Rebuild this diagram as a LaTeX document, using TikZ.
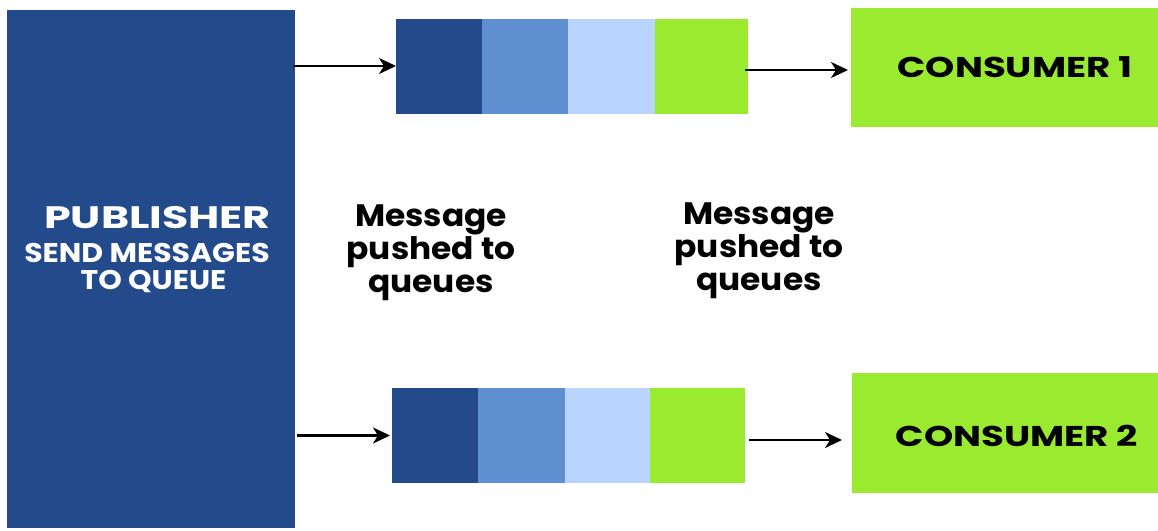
\documentclass[tikz,border=0pt]{standalone}
\usepackage{fontspec}
\setmainfont{Poppins}
% wide cuts of the same face for the headings
\newfontfamily\titlewide[FakeStretch=1.38]{Poppins}
\newfontfamily\subwide[FakeStretch=1.11]{Poppins}
\newfontfamily\conswide[FakeStretch=1.3]{Poppins}
\newfontfamily\capwide[FakeStretch=1.06]{Poppins}
\usetikzlibrary{arrows.meta}

\definecolor{navy}{HTML}{234B8C}
\definecolor{midblue}{HTML}{5F8ED1}
\definecolor{paleblue}{HTML}{B8D4FF}
\definecolor{lime}{HTML}{9AEA30}

\tikzset{
  block/.style={rectangle, inner sep=0pt, outer sep=0pt, draw=none},
  cell/.style={block, minimum height=95pt},
  link/.style={draw=black, line width=2.4pt, -{Stealth[length=17pt,width=16pt,inset=5pt]}},
  caption/.style={align=center, inner sep=0pt, anchor=north,
                  font=\capwide\fontsize{31}{33}\selectfont\bfseries, text=black},
  conslabel/.style={inner sep=0pt, anchor=base,
                  font=\conswide\fontsize{28.6}{32}\selectfont\bfseries, text=black},
  publabel/.style={inner sep=0pt, anchor=base, text=white},
}

\begin{document}
\begin{tikzpicture}[x=1pt, y=-1pt]
\useasboundingbox (0,0) rectangle (1158,530);

% publisher column
\node[block, fill=navy, minimum width=288pt, minimum height=518pt] (pub) at (151,269) {};
\node[publabel, font=\titlewide\fontsize{31}{34}\selectfont\bfseries] (pubt) at (157.5,228) {PUBLISHER};
\node[publabel, font=\subwide\fontsize{27}{30}\selectfont\bfseries] (pubs1) at (147,262) {SEND MESSAGES};
\node[publabel, font=\subwide\fontsize{27}{30}\selectfont\bfseries] (pubs2) at (153.5,289) {TO QUEUE};

% first queue
\node[cell, fill=navy,     minimum width=86pt] (q1a) at (439,66) {};
\node[cell, fill=midblue,  minimum width=86pt] (q1b) at (525,66) {};
\node[cell, fill=paleblue, minimum width=87pt] (q1c) at (611.5,66) {};
\node[cell, fill=lime,     minimum width=93pt] (q1d) at (701.5,66) {};

% second queue
\node[cell, fill=navy,     minimum width=86pt] (q2a) at (435,435.5) {};
\node[cell, fill=midblue,  minimum width=87pt] (q2b) at (521.5,435.5) {};
\node[cell, fill=paleblue, minimum width=85pt] (q2c) at (607.5,435.5) {};
\node[cell, fill=lime,     minimum width=95pt] (q2d) at (697.5,435.5) {};

% consumers
\node[block, fill=lime, minimum width=307pt, minimum height=119pt] (c1) at (1004.5,67.5) {};
\node[block, fill=lime, minimum width=306pt, minimum height=120pt] (c2) at (1005,433) {};
\node[conslabel] (c1t) at (1015,77) {CONSUMER 1};
\node[conslabel] (c2t) at (1017,446) {CONSUMER 2};

% captions
\node[caption] (m1) at (431,205) {Message\\pushed to\\queues};
\node[caption] (m2) at (759,203) {Message\\pushed to\\queues};

% connectors
\draw[link] ([xshift=-2pt]pub.east |- q1a.west) -- (q1a.west);
\draw[link] ([xshift=2pt]pub.east |- q2a.west) -- ([xshift=-2pt]q2a.west);
\draw[link] ([xshift=-3pt,yshift=-4pt]q1d.east) -- ([xshift=-3pt,yshift=-4pt]q1d.east -| c1.west);
\draw[link] ([xshift=4pt,yshift=-4.5pt]q2d.east) -- ([xshift=-10pt,yshift=-4.5pt]q2d.east -| c2.west);
\end{tikzpicture}
\end{document}
